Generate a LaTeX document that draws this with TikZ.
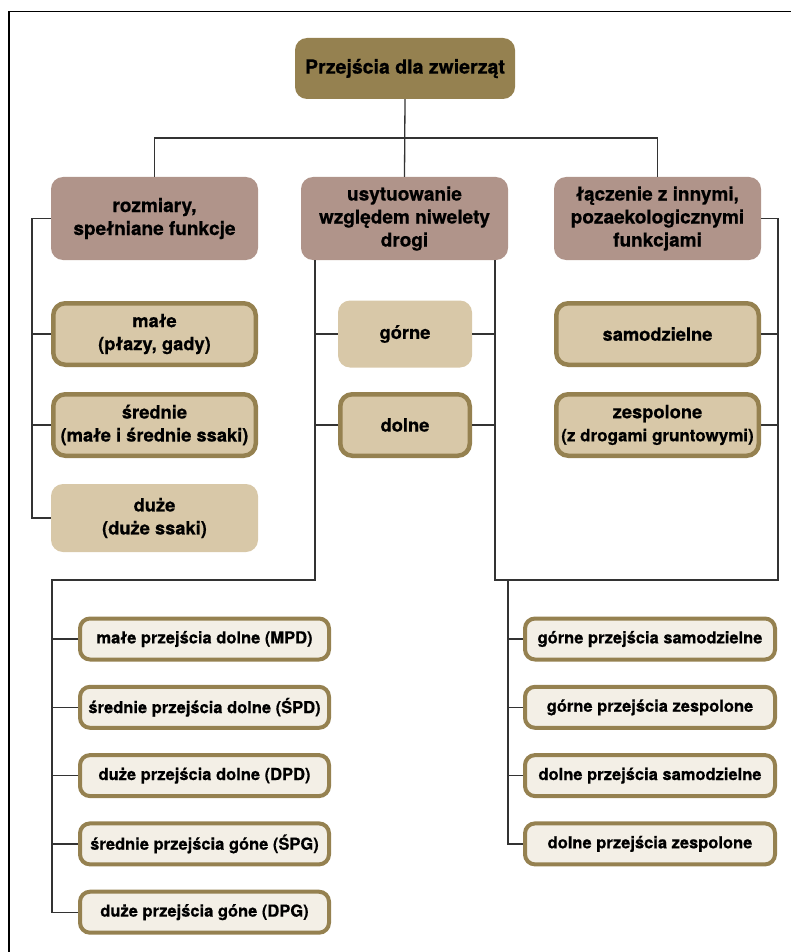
\documentclass[tikz,border=0pt]{standalone}
\usepackage{fontspec}
\setmainfont[BoldFeatures={FakeBold=0.6}]{TeX Gyre Heros}
\usepackage{tikz}
\usetikzlibrary{positioning}
\definecolor{rootbrown}{HTML}{958150}
\definecolor{catrose}{HTML}{B0948A}
\definecolor{optbeige}{HTML}{D8C8A8}
\definecolor{leafcream}{HTML}{F3EFE6}
\definecolor{wire}{HTML}{333333}

\begin{document}
\begin{tikzpicture}[x=1pt, y=-1pt,
    rootbox/.style={fill=rootbrown, rounded corners=12pt, minimum width=220pt, minimum height=61pt,
        font=\fontsize{19.5}{23}\selectfont\bfseries},
    catbox/.style={fill=catrose, rounded corners=12pt, minimum width=207pt, minimum height=83pt,
        align=center, inner sep=0pt, font=\fontsize{19}{23}\selectfont\bfseries},
    optplain/.style={fill=optbeige, rounded corners=12pt, minimum width=207pt, minimum height=67pt,
        align=center, inner sep=0pt, font=\fontsize{18.3}{23}\selectfont\bfseries},
    optbox/.style={optplain, draw=rootbrown, line width=4.5pt, minimum width=202.5pt, minimum height=61.5pt},
    leafbox/.style={fill=leafcream, draw=rootbrown, line width=4pt, rounded corners=10pt,
        minimum width=249pt, minimum height=41pt, inner sep=0pt,
        font=\fontsize{16.5}{20}\selectfont\bfseries},
    wires/.style={draw=wire, line width=1.3pt}]
    \useasboundingbox (0,0) rectangle (791,952);
    % frame
    \draw[line width=1.3pt] (9,952) -- (9,11.5) -- (791,11.5);

    % top levels
    \node[rootbox] (root) at (405,68.5) {Przejścia dla zwierząt};
    \node[catbox] (size) at (154.5,218.5) {rozmiary,\\spełniane funkcje};
    \node[catbox] (level) at (404.5,218.5) {usytuowanie\\względem niwelety\\drogi};
    \node[catbox] (join) at (657.5,218.5) {łączenie z innymi,\\pozaekologicznymi\\funkcjami};

    % options
    \node[optbox] (small) at (154.5,334) {małe\\(płazy, gady)};
    \node[optbox] (medium) at (154.5,425) {średnie\\(małe i średnie ssaki)};
    \node[optplain, minimum height=68pt] (large) at (154.5,518) {duże\\(duże ssaki)};
    \node[optplain, minimum width=134pt] (upper) at (405,334) {górne};
    \node[optbox, minimum width=129.5pt] (lower) at (405,425) {dolne};
    \node[optbox] (alone) at (657.5,334) {samodzielne};
    \node[optbox] (shared) at (657.5,425) {zespolone\\{\fontsize{17}{20}\selectfont(z drogami gruntowymi)}};

    % leaves
    \foreach \t [count=\i] in {małe przejścia dolne (MPD), średnie przejścia dolne (ŚPD),
        duże przejścia dolne (DPD), średnie przejścia góne (ŚPG), duże przejścia góne (DPG)}
        \node[leafbox] (L\i) at (204.5,{639+68.3*(\i-1)}) {\t};
    \foreach \t [count=\i] in {górne przejścia samodzielne, górne przejścia zespolone,
        dolne przejścia samodzielne, dolne przejścia zespolone}
        \node[leafbox, minimum width=250pt] (R\i) at (650,{639+68.3*(\i-1)}) {\t};

    % bus coordinates
    \coordinate (topbar) at (405,138);
    \coordinate (sizebus) at (32,0);
    \coordinate (busL) at (315,580);
    \coordinate (busR) at (495,580);
    \coordinate (lowL) at (52,580);
    \coordinate (lowR) at (778,580);
    \coordinate (rleafbus) at (508,580);

    % connectors
    \draw[wires] (root.south) -- (level.north);
    \draw[wires] (size.north) |- (topbar) -| (join.north);
    \draw[wires] (size.west) -- (size.west -| sizebus) |- (large.west);
    \draw[wires] (small.west) -- (small.west -| sizebus);
    \draw[wires] (medium.west) -- (medium.west -| sizebus);
    \draw[wires] (level.south -| busL) |- (lowL) |- (L5.west);
    \draw[wires] (level.south -| busR) |- (lowR) |- (join.east);
    \draw[wires] (upper.west) -- (upper.west -| busL);
    \draw[wires] (lower.west) -- (lower.west -| busL);
    \draw[wires] (upper.east) -- (upper.east -| busR);
    \draw[wires] (lower.east) -- (lower.east -| busR);
    \draw[wires] (alone.east) -- (alone.east -| lowR);
    \draw[wires] (shared.east) -- (shared.east -| lowR);
    \draw[wires] (rleafbus) |- (R4.west);
    \foreach \i in {1,...,4}
        \draw[wires] (L\i.west) -- (L\i.west -| lowL);
    \foreach \i in {1,...,3}
        \draw[wires] (R\i.west) -- (R\i.west -| rleafbus);
\end{tikzpicture}
\end{document}
